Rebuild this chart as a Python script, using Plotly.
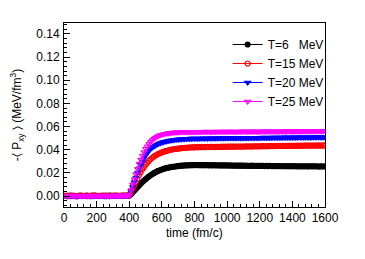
import plotly.graph_objects as go

time = list(range(0, 1601, 10))

# T = 6 MeV
t6_pre = [0.0002, 0.0000, -0.0001, 0.0002, 0.0003, 0.0001, 0.0001, -0.0001, -0.0002, 0.0001,
          0.0002, 0.0001, 0.0000, 0.0002, 0.0003, 0.0001, -0.0001, 0.0001, 0.0002, 0.0003,
          0.0001, 0.0000, 0.0000, 0.0002, 0.0002, -0.0001, -0.0001, 0.0001, 0.0003, 0.0002,
          0.0001, 0.0000, 0.0002, 0.0001, 0.0000, 0.0002, 0.0003, 0.0001, 0.0002, 0.0003,
          0.0004]
t6_rise = [0.0015, 0.0030, 0.0045, 0.0060, 0.0075, 0.0090, 0.0105, 0.0120, 0.0133, 0.0145,
           0.0157, 0.0168, 0.0178, 0.0188, 0.0197, 0.0205, 0.0212, 0.0218, 0.0224, 0.0229,
           0.0234, 0.0238, 0.0242, 0.0245, 0.0248, 0.0251, 0.0253, 0.0255, 0.0257, 0.0259,
           0.0261, 0.0262, 0.0263, 0.0264, 0.0265, 0.0265, 0.0266, 0.0266, 0.0267, 0.0267]
t6_flat = [0.0267, 0.0267, 0.0266, 0.0267, 0.0266, 0.0266, 0.0267, 0.0266, 0.0265, 0.0266,
           0.0265, 0.0266, 0.0265, 0.0265, 0.0265, 0.0264, 0.0264, 0.0265, 0.0264, 0.0264,
           0.0263, 0.0264, 0.0263, 0.0263, 0.0262, 0.0263, 0.0262, 0.0263, 0.0262, 0.0262,
           0.0261, 0.0262, 0.0261, 0.0261, 0.0262, 0.0261, 0.0260, 0.0261, 0.0260, 0.0260,
           0.0261, 0.0260, 0.0259, 0.0260, 0.0259, 0.0260, 0.0259, 0.0259, 0.0258, 0.0259,
           0.0258, 0.0259, 0.0258, 0.0258, 0.0257, 0.0258, 0.0257, 0.0258, 0.0257, 0.0257,
           0.0258, 0.0257, 0.0256, 0.0257, 0.0256, 0.0257, 0.0256, 0.0257, 0.0256, 0.0256,
           0.0257, 0.0256, 0.0256, 0.0257, 0.0256, 0.0255, 0.0256, 0.0256, 0.0255, 0.0256]

# T = 15 MeV
t15_pre = [0.0001, 0.0002, 0.0003, 0.0000, -0.0002, 0.0001, 0.0002, 0.0001, 0.0000, 0.0002,
           0.0003, 0.0002, 0.0001, 0.0000, -0.0001, 0.0000, 0.0002, 0.0003, 0.0003, 0.0001,
           0.0000, 0.0001, 0.0002, 0.0002, 0.0001, 0.0003, 0.0003, 0.0000, -0.0001, 0.0001,
           0.0002, 0.0003, 0.0003, 0.0002, 0.0001, 0.0001, 0.0002, 0.0003, 0.0003, 0.0004,
           0.0005]
t15_rise = [0.0030, 0.0060, 0.0090, 0.0120, 0.0150, 0.0180, 0.0205, 0.0230, 0.0250, 0.0270,
            0.0287, 0.0303, 0.0317, 0.0330, 0.0340, 0.0350, 0.0358, 0.0365, 0.0371, 0.0377,
            0.0382, 0.0387, 0.0391, 0.0395, 0.0398, 0.0401, 0.0404, 0.0406, 0.0408, 0.0410,
            0.0412, 0.0413, 0.0415, 0.0416, 0.0417, 0.0418, 0.0419, 0.0420, 0.0420, 0.0421]
t15_flat = [0.0422, 0.0421, 0.0422, 0.0423, 0.0422, 0.0423, 0.0422, 0.0424, 0.0423, 0.0424,
            0.0424, 0.0423, 0.0425, 0.0424, 0.0425, 0.0424, 0.0426, 0.0425, 0.0426, 0.0425,
            0.0426, 0.0427, 0.0426, 0.0427, 0.0426, 0.0427, 0.0428, 0.0427, 0.0428, 0.0427,
            0.0428, 0.0429, 0.0428, 0.0429, 0.0428, 0.0429, 0.0430, 0.0429, 0.0430, 0.0429,
            0.0430, 0.0431, 0.0430, 0.0431, 0.0430, 0.0431, 0.0432, 0.0431, 0.0432, 0.0431,
            0.0432, 0.0433, 0.0432, 0.0433, 0.0432, 0.0433, 0.0434, 0.0433, 0.0434, 0.0433,
            0.0434, 0.0434, 0.0435, 0.0434, 0.0435, 0.0434, 0.0435, 0.0436, 0.0435, 0.0435,
            0.0436, 0.0435, 0.0436, 0.0435, 0.0436, 0.0437, 0.0436, 0.0436, 0.0437, 0.0436]

# T = 20 MeV
t20_pre = [0.0002, 0.0001, 0.0000, 0.0002, 0.0003, 0.0002, 0.0001, -0.0001, 0.0000, 0.0002,
           0.0003, 0.0002, 0.0001, 0.0001, 0.0002, 0.0003, 0.0002, 0.0000, -0.0001, 0.0001,
           0.0002, 0.0003, 0.0002, 0.0001, 0.0002, 0.0003, 0.0002, 0.0001, 0.0000, 0.0002,
           0.0003, 0.0003, 0.0002, 0.0001, 0.0002, 0.0003, 0.0002, 0.0003, 0.0004, 0.0004,
           0.0006]
t20_rise = [0.0040, 0.0080, 0.0120, 0.0160, 0.0200, 0.0240, 0.0270, 0.0300, 0.0326, 0.0350,
            0.0371, 0.0390, 0.0405, 0.0418, 0.0428, 0.0437, 0.0445, 0.0452, 0.0458, 0.0463,
            0.0467, 0.0471, 0.0474, 0.0477, 0.0480, 0.0482, 0.0484, 0.0486, 0.0488, 0.0489,
            0.0490, 0.0491, 0.0492, 0.0493, 0.0494, 0.0494, 0.0495, 0.0495, 0.0496, 0.0496]
t20_flat = [0.0496, 0.0497, 0.0496, 0.0497, 0.0498, 0.0497, 0.0498, 0.0497, 0.0498, 0.0499,
            0.0498, 0.0499, 0.0498, 0.0499, 0.0500, 0.0499, 0.0500, 0.0499, 0.0500, 0.0501,
            0.0500, 0.0501, 0.0500, 0.0501, 0.0500, 0.0501, 0.0502, 0.0501, 0.0502, 0.0501,
            0.0502, 0.0501, 0.0502, 0.0503, 0.0502, 0.0503, 0.0502, 0.0503, 0.0502, 0.0503,
            0.0504, 0.0503, 0.0504, 0.0503, 0.0504, 0.0503, 0.0504, 0.0505, 0.0504, 0.0505,
            0.0504, 0.0505, 0.0504, 0.0505, 0.0506, 0.0505, 0.0506, 0.0505, 0.0506, 0.0505,
            0.0506, 0.0505, 0.0506, 0.0507, 0.0506, 0.0507, 0.0506, 0.0507, 0.0506, 0.0507,
            0.0506, 0.0507, 0.0508, 0.0507, 0.0508, 0.0507, 0.0508, 0.0507, 0.0508, 0.0507]

# T = 25 MeV
t25_pre = [0.0003, 0.0002, 0.0001, 0.0002, 0.0004, 0.0003, 0.0001, 0.0002, 0.0003, 0.0002,
           0.0003, 0.0002, 0.0000, 0.0001, 0.0003, 0.0004, 0.0003, 0.0002, 0.0001, 0.0002,
           0.0004, 0.0003, 0.0002, 0.0001, 0.0003, 0.0002, 0.0004, 0.0003, 0.0002, 0.0001,
           0.0003, 0.0004, 0.0003, 0.0002, 0.0003, 0.0004, 0.0003, 0.0004, 0.0005, 0.0005,
           0.0008]
t25_rise = [0.0050, 0.0100, 0.0145, 0.0190, 0.0235, 0.0280, 0.0315, 0.0350, 0.0380, 0.0410,
            0.0430, 0.0450, 0.0468, 0.0483, 0.0495, 0.0505, 0.0514, 0.0521, 0.0526, 0.0531,
            0.0535, 0.0538, 0.0541, 0.0543, 0.0545, 0.0547, 0.0548, 0.0549, 0.0550, 0.0551,
            0.0552, 0.0552, 0.0553, 0.0553, 0.0553, 0.0553, 0.0554, 0.0554, 0.0554, 0.0554]
t25_flat = [0.0555, 0.0554, 0.0555, 0.0554, 0.0555, 0.0556, 0.0555, 0.0556, 0.0555, 0.0554,
            0.0555, 0.0556, 0.0555, 0.0556, 0.0555, 0.0556, 0.0557, 0.0556, 0.0555, 0.0556,
            0.0557, 0.0556, 0.0557, 0.0556, 0.0555, 0.0556, 0.0557, 0.0556, 0.0557, 0.0558,
            0.0557, 0.0556, 0.0557, 0.0558, 0.0557, 0.0558, 0.0557, 0.0556, 0.0557, 0.0558,
            0.0557, 0.0558, 0.0557, 0.0558, 0.0559, 0.0558, 0.0557, 0.0558, 0.0559, 0.0558,
            0.0557, 0.0558, 0.0559, 0.0558, 0.0559, 0.0558, 0.0559, 0.0560, 0.0559, 0.0558,
            0.0559, 0.0560, 0.0559, 0.0560, 0.0559, 0.0560, 0.0561, 0.0560, 0.0559, 0.0560,
            0.0561, 0.0560, 0.0561, 0.0560, 0.0561, 0.0562, 0.0561, 0.0560, 0.0561, 0.0562]

series = [
    ("T=6\u00a0\u00a0\u00a0MeV", t6_pre + t6_rise + t6_flat, "#000000", "circle"),
    ("T=15 MeV", t15_pre + t15_rise + t15_flat, "#ff0000", "circle-open"),
    ("T=20 MeV", t20_pre + t20_rise + t20_flat, "#0000ff", "triangle-down"),
    ("T=25 MeV", t25_pre + t25_rise + t25_flat, "#ff00ff", "triangle-down-open"),
]

fig = go.Figure()
for name, vals, color, sym in series:
    fig.add_trace(go.Scatter(
        x=time[:len(vals)], y=vals, name=name, mode="lines+markers",
        line=dict(color=color, width=1),
        marker=dict(color=color, symbol=sym, size=5, line=dict(color=color, width=1.2)),
    ))

font = "Liberation Sans, Arial, Helvetica, sans-serif"
fig.update_layout(
    width=357, height=251,
    margin=dict(l=56, r=40, t=15, b=52),
    paper_bgcolor="white", plot_bgcolor="white",
    font=dict(family=font, size=12, color="black"),
    showlegend=True,
    legend=dict(x=0.627, y=0.962, xanchor="left", yanchor="top",
                bgcolor="rgba(0,0,0,0)", font=dict(size=12, color="black")),
    annotations=[dict(text="time (fm/c)", xref="paper", yref="paper", x=0.5, y=0,
                      xanchor="center", yanchor="middle", yshift=-26, showarrow=False,
                      font=dict(size=12, color="black"))],
)
fig.update_xaxes(
    range=[0, 1600], tickvals=[0, 200, 400, 600, 800, 1000, 1200, 1400, 1600],
    ticks="inside", ticklen=6, tickcolor="black", showline=True, linecolor="black",
    linewidth=1, mirror=True, showgrid=False, zeroline=False, automargin=False,
    minor=dict(dtick=40, ticks="inside", ticklen=3, tickcolor="black"),
    tickfont=dict(size=12),
)
fig.update_yaxes(
    range=[-0.0095, 0.1495], tickvals=[0, 0.02, 0.04, 0.06, 0.08, 0.10, 0.12, 0.14],
    tickformat=".2f",
    ticks="inside", ticklen=6, tickcolor="black", showline=True, linecolor="black",
    linewidth=1, mirror=True, showgrid=False, zeroline=False, automargin=False,
    minor=dict(dtick=0.004, tick0=0, ticks="inside", ticklen=3, tickcolor="black"),
    title=dict(text="-\u2329 P<sub>xy</sub> \u232a (MeV/fm<sup>3</sup>)", font=dict(size=12), standoff=16),
    tickfont=dict(size=12),
    ticklabelstandoff=1,
)
fig.write_html("out.html")
